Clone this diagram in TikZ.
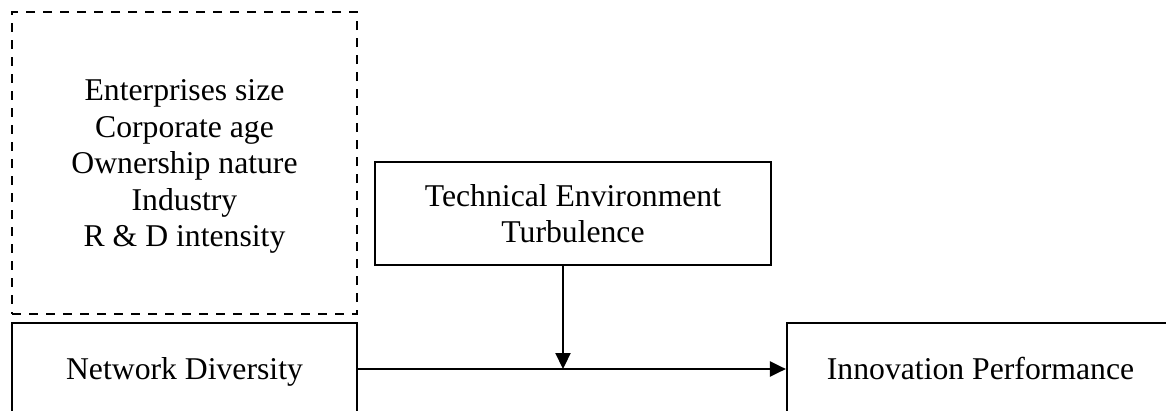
\documentclass[tikz,border=0pt]{standalone}
\usepackage{fontspec}
\setmainfont{Liberation Serif}
\usetikzlibrary{arrows.meta}
\begin{document}
\begin{tikzpicture}[x=1pt,y=-1pt,
  every node/.style={font=\fontsize{31.7pt}{36.5pt}\selectfont, align=center, inner sep=0pt, text depth=0pt},
  boxstyle/.style={draw, line width=2.2pt},
  ctrlbox/.style={draw, line width=2.2pt, dash pattern=on 9pt off 8pt},
  arrowline/.style={line width=2.2pt, -{Triangle[length=16pt,width=15pt]}}
]
\useasboundingbox (0,0) rectangle (1166,410);
\clip (0,0) rectangle (1166,410);
\node[ctrlbox, minimum width=345pt, minimum height=302pt] (ctrl) at (184.5,163)
  {Enterprises size\\Corporate age\\Ownership nature\\Industry\\R \& D intensity};
\node[boxstyle, minimum width=345pt, minimum height=92pt, text height=21pt] (nd) at (184.5,369) {Network Diversity};
\node[boxstyle, minimum width=396pt, minimum height=103pt] (tet) at (573,213.5) {Technical Environment\\Turbulence};
\node[boxstyle, minimum width=387pt, minimum height=92pt, text height=21pt] (ip) at (980.5,369) {Innovation Performance};
\draw[arrowline] (nd.east) -- (ip.west);
\coordinate (m) at (563,369);
\draw[arrowline] (tet.south -| m) -- (m);
\end{tikzpicture}
\end{document}
